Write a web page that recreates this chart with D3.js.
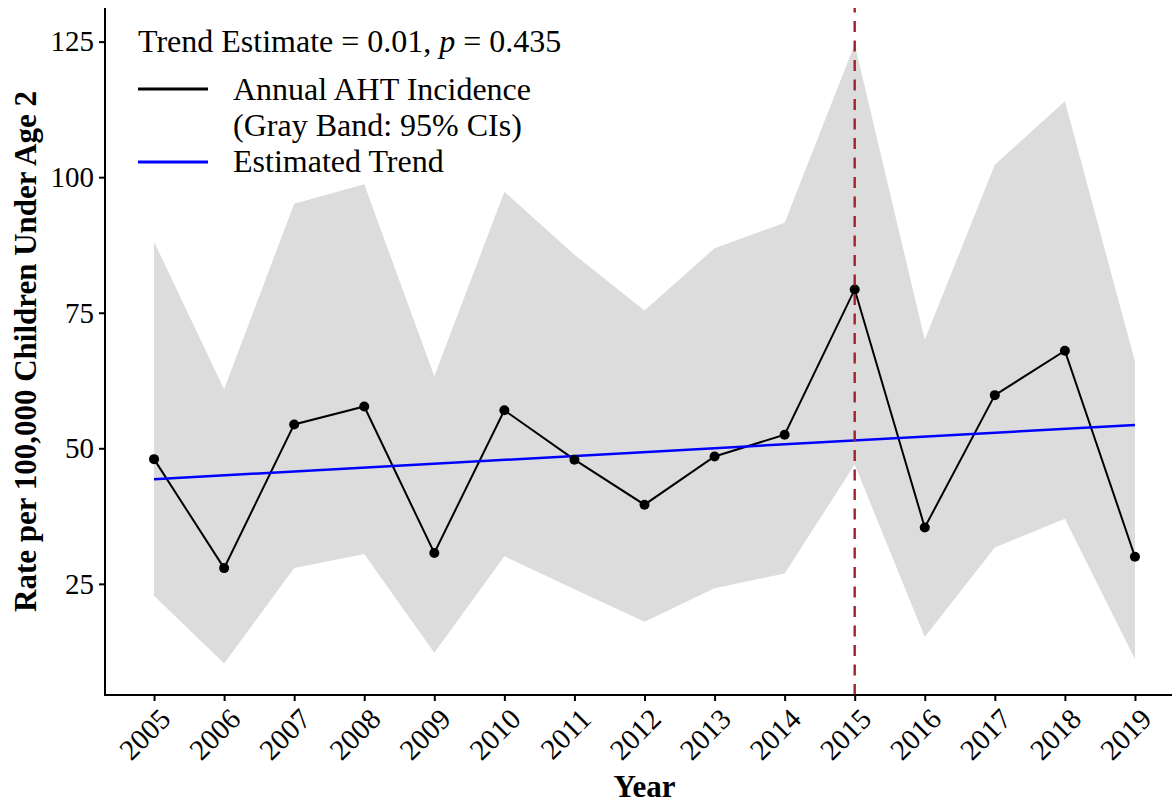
<!DOCTYPE html>
<html>
<head>
<meta charset="utf-8">
<script src="https://cdn.jsdelivr.net/npm/d3@7"></script>
<style>
  html, body { margin: 0; padding: 0; background: #fff; }
  svg { display: block; }
  text { font-family: "Liberation Serif", "Times New Roman", serif; fill: #000; }
</style>
</head>
<body>
<svg id="chart" width="1172" height="805"></svg>
<script>
// ---- data ----
const years = [2005, 2006, 2007, 2008, 2009, 2010, 2011, 2012, 2013, 2014, 2015, 2016, 2017, 2018, 2019];
const rate  = [48.0, 27.9, 54.4, 57.7, 30.7, 57.0, 47.9, 39.6, 48.5, 52.5, 79.3, 35.4, 59.8, 68.0, 30.0];
const upper = [88.1, 60.9, 95.1, 98.7, 63.3, 97.3, 85.7, 75.4, 86.9, 91.6, 124.5, 70.0, 102.3, 114.0, 66.0];
const lower = [22.8, 10.3, 27.9, 30.5, 12.3, 30.1, 24.0, 18.0, 24.2, 26.9, 47.0, 15.2, 31.7, 37.0, 11.1];
const trendYears = [2005, 2019];
const trendValues = [44.3, 54.3];
const yTicks = [25, 50, 75, 100, 125];
const markerYear = 2015;
const annotation = "Trend Estimate = 0.01, ";
const legendLabels = ["Annual AHT Incidence", "(Gray Band: 95% CIs)", "Estimated Trend"];

(function () {
// ---- layout ----
const svg = d3.select("#chart");
const pLeft = 105, pRight = 1184, pTop = 8, pBottom = 695;

const x = d3.scaleLinear().domain([2004.3, 2019.7]).range([pLeft, pRight]);
const y = d3.scaleLinear().domain([4.5, 131.2]).range([pBottom, pTop]);

const rows = years.map((yr, i) => ({ yr, v: rate[i], lo: lower[i], hi: upper[i] }));

// CI band
svg.append("path")
  .datum(rows)
  .attr("fill", "#dcdcdc")
  .attr("d", d3.area().x(d => x(d.yr)).y0(d => y(d.lo)).y1(d => y(d.hi)));

// observed line
svg.append("path")
  .datum(rows)
  .attr("fill", "none")
  .attr("stroke", "#000")
  .attr("stroke-width", 2)
  .attr("d", d3.line().x(d => x(d.yr)).y(d => y(d.v)));

// trend line
svg.append("path")
  .datum(trendYears.map((yr, i) => ({ yr, v: trendValues[i] })))
  .attr("fill", "none")
  .attr("stroke", "#0000ff")
  .attr("stroke-width", 2.5)
  .attr("d", d3.line().x(d => x(d.yr)).y(d => y(d.v)));

// points
svg.append("g").selectAll("circle").data(rows).join("circle")
  .attr("cx", d => x(d.yr)).attr("cy", d => y(d.v)).attr("r", 5).attr("fill", "#000");

// vertical dashed line at 2015 (drawn bottom to top)
svg.append("line")
  .attr("x1", x(markerYear)).attr("x2", x(markerYear))
  .attr("y1", pBottom).attr("y2", pTop)
  .attr("stroke", "#a3222a").attr("stroke-width", 2.4)
  .attr("stroke-dasharray", "11,8.5");

// axes
const yAxis = d3.axisLeft(y).tickValues(yTicks).tickSize(6).tickPadding(5);
const gy = svg.append("g").attr("transform", `translate(${pLeft},0)`).call(yAxis);
gy.select(".domain").attr("stroke", "#000").attr("stroke-width", 2)
  .attr("d", `M0,${pTop}V${pBottom}`);
gy.selectAll(".tick line").attr("stroke", "#000").attr("stroke-width", 2);
gy.selectAll(".tick text").attr("font-size", 29).attr("font-family", "Liberation Serif").attr("fill", "#000");

const xAxis = d3.axisBottom(x).tickValues(years).tickFormat(d3.format("d")).tickSize(6);
const gx = svg.append("g").attr("transform", `translate(0,${pBottom})`).call(xAxis);
gx.select(".domain").attr("stroke", "#000").attr("stroke-width", 2)
  .attr("d", `M${pLeft - 1},0H${pRight}`);
gx.selectAll(".tick line").attr("stroke", "#000").attr("stroke-width", 2);
gx.selectAll(".tick text")
  .attr("font-size", 29).attr("font-family", "Liberation Serif").attr("fill", "#000")
  .attr("text-anchor", "end")
  .attr("dominant-baseline", "hanging")
  .attr("y", 0).attr("dy", 0)
  .attr("transform", "translate(3,11) rotate(-45)");

// axis titles
svg.append("text")
  .attr("transform", `translate(36,${(pTop + pBottom) / 2}) rotate(-90)`)
  .attr("text-anchor", "middle")
  .attr("font-size", 31).attr("font-weight", "bold")
  .text("Rate per 100,000 Children Under Age 2");

svg.append("text")
  .attr("x", (pLeft + pRight) / 2).attr("y", 797)
  .attr("text-anchor", "middle")
  .attr("font-size", 31).attr("font-weight", "bold")
  .text("Year");

// annotation
const ann = svg.append("text").attr("x", 138).attr("y", 52).attr("font-size", 32);
ann.append("tspan").text(annotation);
ann.append("tspan").attr("font-style", "italic").text("p");
ann.append("tspan").text(" = 0.435");

// legend
svg.append("line").attr("x1", 138).attr("x2", 208).attr("y1", 89).attr("y2", 89)
  .attr("stroke", "#000").attr("stroke-width", 3);
svg.append("line").attr("x1", 138).attr("x2", 208).attr("y1", 162).attr("y2", 162)
  .attr("stroke", "#0000ff").attr("stroke-width", 3);
svg.append("text").attr("x", 233).attr("y", 100).attr("font-size", 32).text(legendLabels[0]);
svg.append("text").attr("x", 233).attr("y", 136).attr("font-size", 32).text(legendLabels[1]);
svg.append("text").attr("x", 233).attr("y", 172).attr("font-size", 32).text(legendLabels[2]);
})();
</script>
</body>
</html>
